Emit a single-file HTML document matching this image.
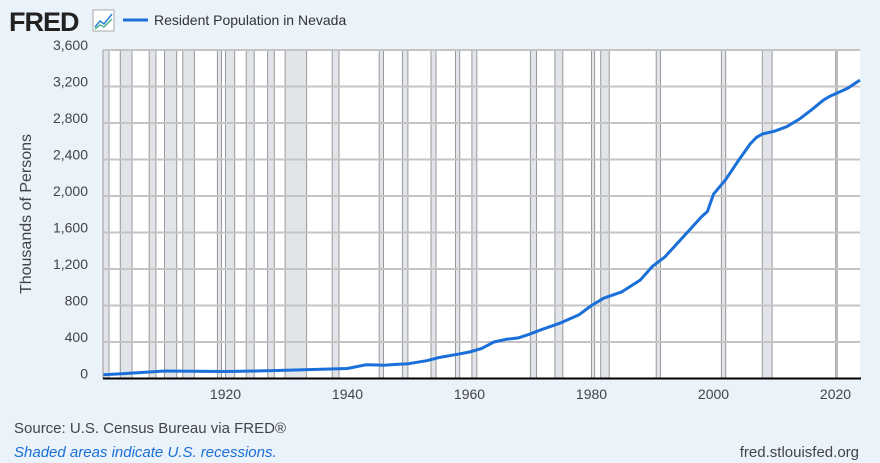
<!DOCTYPE html>
<html><head><meta charset="utf-8"><style>
body{margin:0;width:880px;height:463px;background:#eaf2fa;font-family:"Liberation Sans",sans-serif;overflow:hidden}
svg{position:absolute;left:0;top:0}
</style></head><body>
<svg width="880" height="463" xmlns="http://www.w3.org/2000/svg">
<rect x="0" y="0" width="880" height="463" fill="#eaf2fa"/>
<text x="9" y="31" font-family="Liberation Sans" font-weight="bold" font-size="27" fill="#222" letter-spacing="-1">FRED</text>
<rect x="93" y="10" width="21" height="21" fill="#fff" stroke="#aaa" stroke-width="1"/>
<polyline points="95,27 100,21 104,24 112,14" fill="none" stroke="#2a7fd4" stroke-width="1.5"/>
<polyline points="95,29 100,25 104,27 112,19" fill="none" stroke="#4cb38a" stroke-width="1.5"/>
<line x1="123" y1="20" x2="148" y2="20" stroke="#1a6fd8" stroke-width="3"/>
<text x="154" y="25" font-size="14" fill="#333">Resident Population in Nevada</text>
<rect x="103" y="50" width="757" height="328.5" fill="#fff"/>
<g fill="#e1e5ea" stroke="#999" stroke-width="1">
<rect x="103" y="50" width="6" height="328"/>
<rect x="120.3" y="50" width="11.7" height="328"/>
<rect x="149.2" y="50" width="6.7" height="328"/>
<rect x="164.5" y="50" width="12.2" height="328"/>
<rect x="182.8" y="50" width="11.6" height="328"/>
<rect x="217.4" y="50" width="4.1" height="328"/>
<rect x="225.5" y="50" width="9.2" height="328"/>
<rect x="246.2" y="50" width="8" height="328"/>
<rect x="267.6" y="50" width="6.7" height="328"/>
<rect x="285.1" y="50" width="21.5" height="328"/>
<rect x="332.2" y="50" width="6.8" height="328"/>
<rect x="379.2" y="50" width="4.3" height="328"/>
<rect x="402.4" y="50" width="5.5" height="328"/>
<rect x="431" y="50" width="5" height="328"/>
<rect x="455.5" y="50" width="4.2" height="328"/>
<rect x="471.9" y="50" width="4.9" height="328"/>
<rect x="530.4" y="50" width="6.1" height="328"/>
<rect x="554.9" y="50" width="7.9" height="328"/>
<rect x="591.5" y="50" width="3.1" height="328"/>
<rect x="600.7" y="50" width="8.5" height="328"/>
<rect x="656.2" y="50" width="4.3" height="328"/>
<rect x="721.4" y="50" width="4.3" height="328"/>
<rect x="762.3" y="50" width="9.8" height="328"/>
<rect x="835.7" y="50" width="1.5" height="328"/>
</g>
<g stroke="#c4c4c4" stroke-width="2">
<line x1="103" x2="860" y1="50" y2="50"/>
<line x1="103" x2="860" y1="86.5" y2="86.5"/>
<line x1="103" x2="860" y1="123" y2="123"/>
<line x1="103" x2="860" y1="159.5" y2="159.5"/>
<line x1="103" x2="860" y1="196" y2="196"/>
<line x1="103" x2="860" y1="232.5" y2="232.5"/>
<line x1="103" x2="860" y1="269" y2="269"/>
<line x1="103" x2="860" y1="305.5" y2="305.5"/>
<line x1="103" x2="860" y1="342" y2="342"/>
</g>
<polyline fill="none" stroke="#1a6fd8" stroke-width="3" stroke-linejoin="round" points="103.5,374.7 134,373 164.5,371 195,371.2 225.5,371.5 256,371 286.5,370.2 317,369.4 347.5,368.5 365.8,364.8 378,365 384,365.3 396.3,364.4 408.5,363.7 426.8,360.7 439,357.5 457.3,354.3 469.5,352 481.7,348.4 493.9,342 506.1,339.3 518.3,337.9 530.5,333.8 542.7,329.2 561,322.8 579.3,314.6 591.5,305.5 603.7,298.2 622,291.8 640.3,280 652.5,266.3 664.7,257.1 683,237.1 701.3,217 707.4,211.5 713.5,194.2 725.7,179.6 737.9,161.3 750.1,144 756.2,137.6 762.3,134 774.5,131.2 786.7,126.7 798.9,119.4 811.1,110.2 823.3,100.2 829.4,96.5 835.5,93.8 847.7,88.3 859.9,80.1"/>
<line x1="103" x2="861" y1="378.5" y2="378.5" stroke="#000" stroke-width="2"/>
<g font-size="14" fill="#444" text-anchor="end">
<text x="88" y="50">3,600</text>
<text x="88" y="86.5">3,200</text>
<text x="88" y="123">2,800</text>
<text x="88" y="159.5">2,400</text>
<text x="88" y="196">2,000</text>
<text x="88" y="232.5">1,600</text>
<text x="88" y="269">1,200</text>
<text x="88" y="305.5">800</text>
<text x="88" y="342">400</text>
<text x="88" y="378.5">0</text>
</g>
<g font-size="14" fill="#444" text-anchor="middle">
<text x="225.5" y="399">1920</text>
<text x="347.5" y="399">1940</text>
<text x="469.5" y="399">1960</text>
<text x="591.5" y="399">1980</text>
<text x="713.5" y="399">2000</text>
<text x="835.5" y="399">2020</text>
</g>
<text transform="translate(31,214) rotate(-90)" font-size="16" fill="#444" text-anchor="middle">Thousands of Persons</text>
<text x="14" y="433" font-size="15" fill="#444">Source: U.S. Census Bureau via FRED®</text>
<text x="14" y="457" font-size="15" fill="#1a6fd8" font-style="italic">Shaded areas indicate U.S. recessions.</text>
<text x="859" y="457" font-size="15" fill="#444" text-anchor="end">fred.stlouisfed.org</text>
</svg>
</body></html>
